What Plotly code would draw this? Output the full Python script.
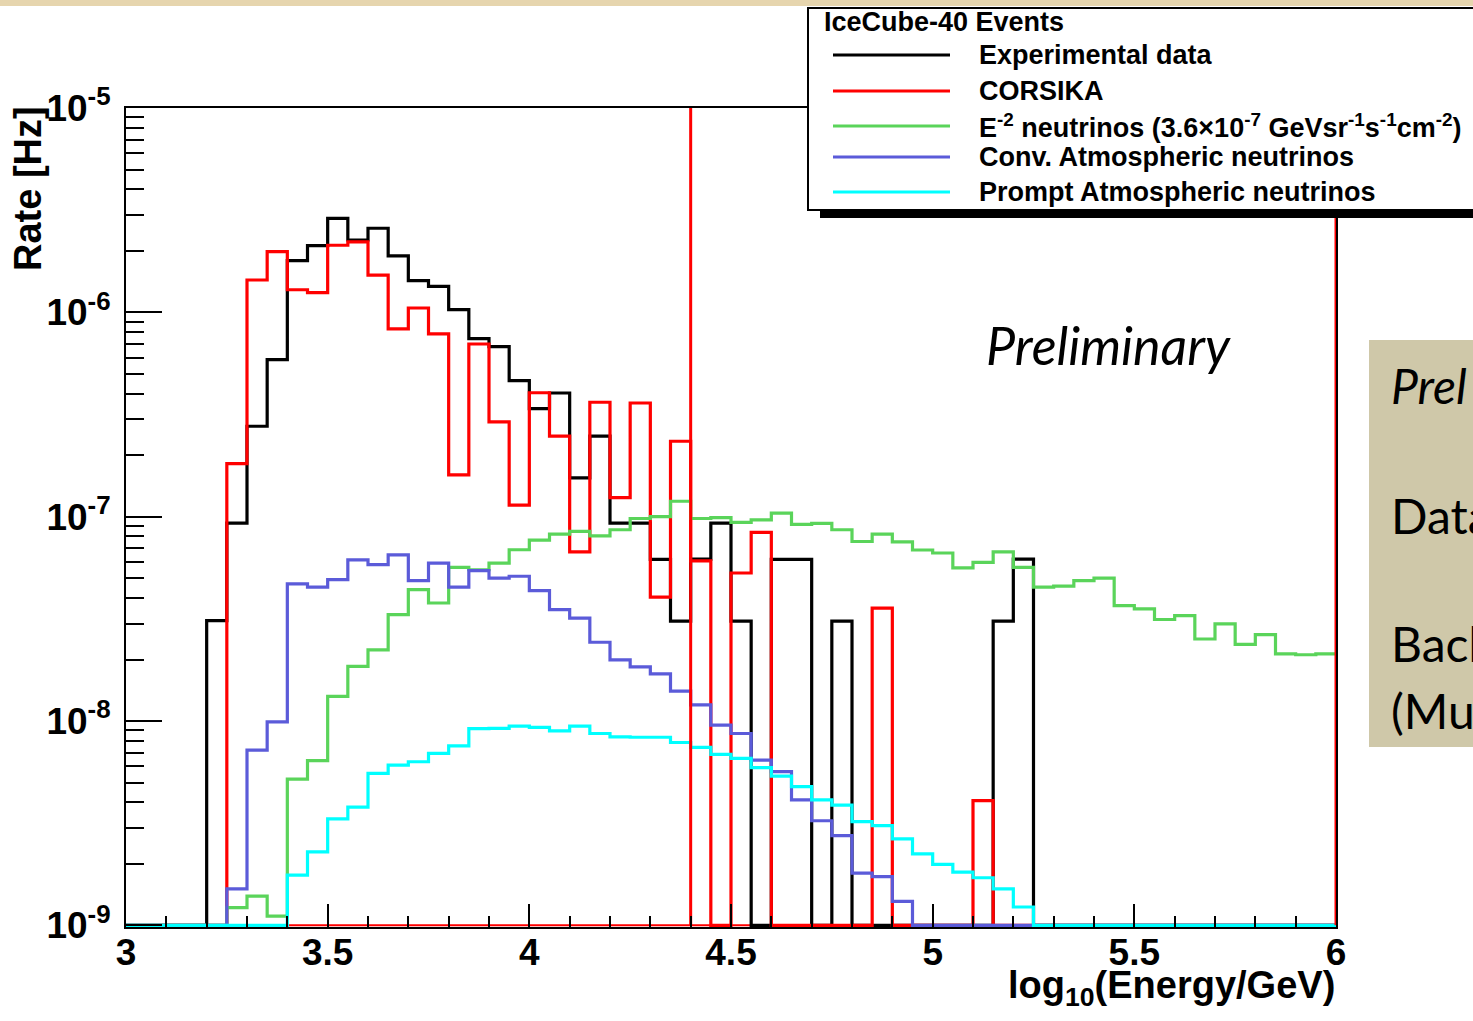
import numpy as np
import plotly.graph_objects as go

# ---------------- data ----------------
x_lo, x_hi, n_bins = 3.0, 6.0, 60
bin_edges = np.round(np.linspace(x_lo, x_hi, n_bins + 1), 3)

experimental = [0, 0, 0, 0, 3.1e-8, 9.3e-8, 2.77e-7, 5.87e-7, 1.79e-6, 2.12e-6,
                2.88e-6, 2.26e-6, 2.58e-6, 1.89e-6, 1.43e-6, 1.34e-6, 1.03e-6, 7.43e-7, 6.8e-7, 4.63e-7,
                3.38e-7, 4.03e-7, 1.55e-7, 2.48e-7, 9.3e-8, 9.3e-8, 6.18e-8, 3.08e-8, 6.2e-8, 9.3e-8,
                3.08e-8, 0, 6.18e-8, 6.18e-8, 0, 3.08e-8, 0, 0, 0, 0,
                0, 0, 0, 3.08e-8, 6.2e-8, 0, 0, 0, 0, 0,
                0, 0, 0, 0, 0, 0, 0, 0, 0, 0]

corsika = [0, 0, 0, 0, 0, 1.82e-7, 1.44e-6, 1.98e-6, 1.29e-6, 1.25e-6,
           2.13e-6, 2.21e-6, 1.52e-6, 8.3e-7, 1.05e-6, 7.85e-7, 1.6e-7, 7.0e-7, 2.91e-7, 1.14e-7,
           4.04e-7, 2.48e-7, 6.73e-8, 3.63e-7, 1.24e-7, 3.6e-7, 4.04e-8, 2.34e-7, 6.08e-8, 0,
           5.3e-8, 8.37e-8, 0, 0, 0, 0, 0, 3.57e-8, 0, 0,
           0, 0, 4.08e-9, 0, 0, 0, 0, 0, 0, 0,
           0, 0, 0, 0, 0, 0, 0, 0, 0, 0]

e2_neutrinos = [0, 0, 0, 0, 0, 1.22e-9, 1.39e-9, 1.11e-9, 5.2e-9, 6.4e-9,
                1.32e-8, 1.85e-8, 2.23e-8, 3.32e-8, 4.4e-8, 3.78e-8, 5.65e-8, 5.5e-8, 5.93e-8, 6.89e-8,
                7.68e-8, 8.22e-8, 8.47e-8, 8.05e-8, 8.63e-8, 9.8e-8, 1.0e-7, 1.19e-7, 9.8e-8, 9.9e-8,
                9.37e-8, 9.64e-8, 1.04e-7, 9.18e-8, 9.27e-8, 8.63e-8, 7.56e-8, 8.22e-8, 7.53e-8, 6.87e-8,
                6.64e-8, 5.62e-8, 5.97e-8, 6.73e-8, 5.65e-8, 4.52e-8, 4.57e-8, 4.87e-8, 5.0e-8, 3.67e-8,
                3.54e-8, 3.14e-8, 3.28e-8, 2.52e-8, 2.99e-8, 2.37e-8, 2.65e-8, 2.13e-8, 2.11e-8, 2.13e-8]

conv_atm = [0, 0, 0, 0, 0, 1.51e-9, 7.21e-9, 9.9e-9, 4.69e-8, 4.52e-8,
            4.92e-8, 6.14e-8, 5.82e-8, 6.51e-8, 4.86e-8, 5.93e-8, 4.52e-8, 5.45e-8, 5.0e-8, 5.11e-8,
            4.35e-8, 3.51e-8, 3.19e-8, 2.43e-8, 1.99e-8, 1.84e-8, 1.7e-8, 1.4e-8, 1.2e-8, 9.55e-9,
            8.69e-9, 6.44e-9, 5.65e-9, 4.11e-9, 3.25e-9, 2.75e-9, 1.8e-9, 1.73e-9, 1.31e-9, 0,
            0, 0, 0, 0, 0, 0, 0, 0, 0, 0,
            0, 0, 0, 0, 0, 0, 0, 0, 0, 0]

prompt_atm = [0, 0, 0, 0, 0, 0, 0, 0, 1.76e-9, 2.29e-9,
              3.32e-9, 3.79e-9, 5.55e-9, 6.09e-9, 6.32e-9, 6.94e-9, 7.56e-9, 9.18e-9, 9.2e-9, 9.44e-9,
              9.3e-9, 8.95e-9, 9.44e-9, 8.69e-9, 8.37e-9, 8.33e-9, 8.33e-9, 7.85e-9, 7.43e-9, 6.87e-9,
              6.56e-9, 5.91e-9, 5.38e-9, 4.77e-9, 4.11e-9, 3.88e-9, 3.22e-9, 3.08e-9, 2.65e-9, 2.24e-9,
              1.99e-9, 1.82e-9, 1.71e-9, 1.51e-9, 1.23e-9, 0, 0, 0, 0, 0,
              0, 0, 0, 0, 0, 0, 0, 0, 0, 0]

series_names = ["Experimental data", "CORSIKA",
                "E<sup>-2</sup> neutrinos (3.6×10<sup>-7</sup> GeVsr<sup>-1</sup>s<sup>-1</sup>cm<sup>-2</sup>)",
                "Conv. Atmospheric neutrinos", "Prompt Atmospheric neutrinos"]
series_values = [experimental, corsika, e2_neutrinos, conv_atm, prompt_atm]
series_colors = ["#000000", "#ff0000", "#5ad45a", "#5b5bd9", "#00ffff"]

cut_lines = [4.4, 6.0]          # vertical red lines
legend_title = "IceCube-40 Events"

x_ticks = [3, 3.5, 4, 4.5, 5, 5.5, 6]
x_ticktext = ["3", "3.5", "4", "4.5", "5", "5.5", "6"]
y_ticks = [1e-9, 1e-8, 1e-7, 1e-6, 1e-5]
y_ticktext = ["10<sup>-9</sup>", "10<sup>-8</sup>", "10<sup>-7</sup>", "10<sup>-6</sup>", "10<sup>-5</sup>"]
y_min, y_max = 1e-9, 1e-5

# ---------------- layout geometry ----------------
W, H = 1473, 1021
L, R, T, B = 126, 1336, 108, 927


def xp(px):
    return (px - L) / (R - L)


def yp(py):
    return (B - py) / (B - T)


FONT = "Liberation Sans"
fig = go.Figure()

# thin red bottom line (frame of the red box)
fig.add_trace(go.Scatter(x=[x_lo, x_hi], y=[y_min, y_min], mode="lines",
                         line=dict(color="#ff0000", width=2), showlegend=False, hoverinfo="skip"))

for name, vals, col in zip(series_names, series_values, series_colors):
    v = np.maximum(np.array(vals, dtype=float), y_min)
    yy = np.append(v, v[-1])
    fig.add_trace(go.Scatter(x=bin_edges, y=yy, mode="lines", line_shape="hv",
                             line=dict(color=col, width=3.2), name=name, showlegend=False))

for c in cut_lines:
    fig.add_trace(go.Scatter(x=[c, c], y=[y_min, y_max], mode="lines",
                             line=dict(color="#ff0000", width=3), showlegend=False, hoverinfo="skip"))

shapes = []
annotations = []

# top parchment strip
shapes.append(dict(type="rect", xref="paper", yref="paper", x0=xp(-5), x1=xp(W + 5),
                   y0=yp(6), y1=yp(-5), fillcolor="#e6d5ae", line=dict(width=0), layer="above"))

# legend (ROOT style box with shadow)
shapes.append(dict(type="rect", xref="paper", yref="paper", x0=xp(820), x1=xp(W + 20),
                   y0=yp(218), y1=yp(205), fillcolor="black", line=dict(width=0), layer="above"))
shapes.append(dict(type="rect", xref="paper", yref="paper", x0=xp(808), x1=xp(W + 20),
                   y0=yp(210), y1=yp(8), fillcolor="white", line=dict(color="black", width=2),
                   layer="above"))
annotations.append(dict(xref="paper", yref="paper", x=xp(822), y=yp(22), xanchor="left",
                        yanchor="middle", showarrow=False, text=legend_title,
                        font=dict(family=FONT, size=27, color="black", weight="bold")))
legend_rows = [55, 91, 126, 157, 192]
for name, col, py in zip(series_names, series_colors, legend_rows):
    shapes.append(dict(type="line", xref="paper", yref="paper", x0=xp(833), x1=xp(950),
                       y0=yp(py), y1=yp(py), line=dict(color=col, width=3), layer="above"))
    annotations.append(dict(xref="paper", yref="paper", x=xp(977), y=yp(py), xanchor="left",
                            yanchor="middle", showarrow=False, text=name,
                            font=dict(family=FONT, size=27, color="black", weight="bold")))

# axis titles
annotations.append(dict(xref="paper", yref="paper", x=xp(28), y=yp(189), xanchor="center",
                        yanchor="middle", textangle=-90, showarrow=False, text="Rate [Hz]",
                        font=dict(family=FONT, size=38, color="black", weight="bold")))
annotations.append(dict(xref="paper", yref="paper", x=xp(1337), y=yp(988), xanchor="right",
                        yanchor="middle", showarrow=False, text="log<sub>10</sub>(Energy/GeV)",
                        font=dict(family=FONT, size=38, color="black", weight="bold")))

# "Preliminary" label inside plot
annotations.append(dict(xref="paper", yref="paper", x=xp(1108), y=yp(345), xanchor="center",
                        yanchor="middle", showarrow=False, text="Preliminary",
                        font=dict(family="Lato", size=52, color="black", style="italic")))

# slide side box (partially visible)
shapes.append(dict(type="rect", xref="paper", yref="paper", x0=xp(1369), x1=xp(W + 20),
                   y0=yp(747), y1=yp(340), fillcolor="#cfc8a9", line=dict(width=0), layer="above"))
side_texts = [("Prel", 385, "italic"), ("Data", 515, "normal"), ("Back", 643, "normal"), ("(Mu", 710, "normal")]
for txt, py, st in side_texts:
    annotations.append(dict(xref="paper", yref="paper", x=xp(1389), y=yp(py), xanchor="left",
                            yanchor="middle", showarrow=False, text=txt,
                            font=dict(family="Lato", size=48, color="black", style=st)))

fig.update_layout(
    width=W, height=H,
    margin=dict(l=L, r=W - R, t=T, b=H - B, pad=0),
    paper_bgcolor="white", plot_bgcolor="white",
    showlegend=False,
    shapes=shapes, annotations=annotations,
    xaxis=dict(range=[x_lo, x_hi], tickvals=x_ticks, ticktext=x_ticktext,
               ticks="inside", ticklen=23, tickwidth=2, tickcolor="black",
               showline=True, linecolor="black", linewidth=2, mirror=True,
               showgrid=False, zeroline=False, ticklabelstandoff=-8,
               tickfont=dict(family=FONT, size=37, color="black", weight="bold"),
               minor=dict(ticks="inside", ticklen=11, tickwidth=2, tickcolor="black", dtick=0.1,
                          showgrid=False)),
    yaxis=dict(type="log", range=[np.log10(y_min) - 0.008, np.log10(y_max)],
               tickvals=y_ticks, ticktext=y_ticktext,
               ticks="inside", ticklen=36, tickwidth=2, tickcolor="black",
               showline=True, linecolor="black", linewidth=2, mirror=True,
               showgrid=False, zeroline=False, ticklabelstandoff=6,
               tickfont=dict(family=FONT, size=37, color="black", weight="bold"),
               minor=dict(ticks="inside", ticklen=18, tickwidth=2, tickcolor="black", dtick="D1",
                          showgrid=False)),
)

fig.write_html("out.html")
